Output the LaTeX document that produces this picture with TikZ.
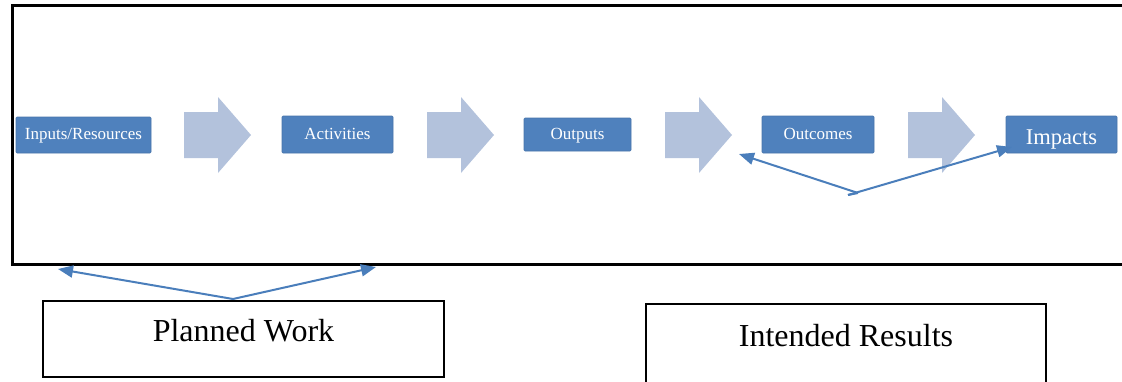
\documentclass[tikz,border=0pt]{standalone}
\usepackage{fontspec}
\setmainfont{Liberation Serif}
\usetikzlibrary{arrows.meta}
\definecolor{boxblue}{HTML}{4F81BD}
\definecolor{arrowfill}{HTML}{B3C2DC}
\definecolor{linkblue}{HTML}{4A7EBB}
\begin{document}
\begin{tikzpicture}[x=1pt,y=-1pt,
  stagebox/.style={fill=boxblue,draw=boxblue!90!black,line width=0.6pt,rounded corners=1pt,
    text=white,inner sep=0pt,text height=0.95em,text depth=0pt,font=\fontsize{17}{18}\selectfont},
  labelbox/.style={draw=black,line width=1.6pt,fill=white,inner sep=0pt},
  labeltext/.style={font=\fontsize{32}{36}\selectfont},
  link/.style={draw=linkblue,line width=2pt,-{Triangle[length=15pt,width=12pt]}}]
\useasboundingbox (0,0) rectangle (1122,381);
% main frame (right side runs off the picture)
\draw[line width=3pt] (1130,5) -- (12,5) -- (12,264) -- (1130,264);
% block arrows
\foreach \x in {184,427,665,908}{
  \fill[arrowfill] (\x,112) -- (\x+34,112) -- (\x+34,97) -- (\x+67,135)
    -- (\x+34,173) -- (\x+34,158) -- (\x,158) -- cycle;
}
% stage boxes
\node[stagebox,minimum width=135pt,minimum height=36pt] (inp) at (83.5,135) {Inputs/Resources};
\node[stagebox,minimum width=111pt,minimum height=37pt] (act) at (337.5,134.5) {Activities};
\node[stagebox,minimum width=107pt,minimum height=33pt] (out) at (577.5,134.5) {Outputs};
\node[stagebox,minimum width=112pt,minimum height=37pt] (ocm) at (818,134.5) {Outcomes};
\node[stagebox,minimum width=111pt,minimum height=37pt,text height=0.9em,font=\fontsize{22.5}{24}\selectfont] (imp) at (1061.5,134.5) {\raisebox{-5pt}{Impacts}};
% label boxes
\node[labelbox,minimum width=401pt,minimum height=76pt] (plan) at (243.5,339) {};
\node[labeltext] (plantxt) at (243.5,331) {Planned Work};
\node[labelbox,minimum width=400pt,minimum height=90pt,anchor=north] (res) at (846,303) {};
\node[labeltext] (restxt) at (846,336) {Intended Results};
% connectors
\coordinate (pj) at (233,299);
\coordinate (pl) at (58,269);
\coordinate (pr) at (376,267);
\draw[link] (pj) -- (pl);
\draw[link] (pj) -- (pr);
\coordinate (rj) at (858,193);
\coordinate (rstart) at (848,195);
\coordinate (rl) at (739,154);
\coordinate (rr) at (1012,147);
\draw[draw=linkblue,line width=2pt] (rstart) -- (rj);
\draw[link] (rj) -- (rl);
\draw[link] (rstart) -- (rr);
\end{tikzpicture}
\end{document}
